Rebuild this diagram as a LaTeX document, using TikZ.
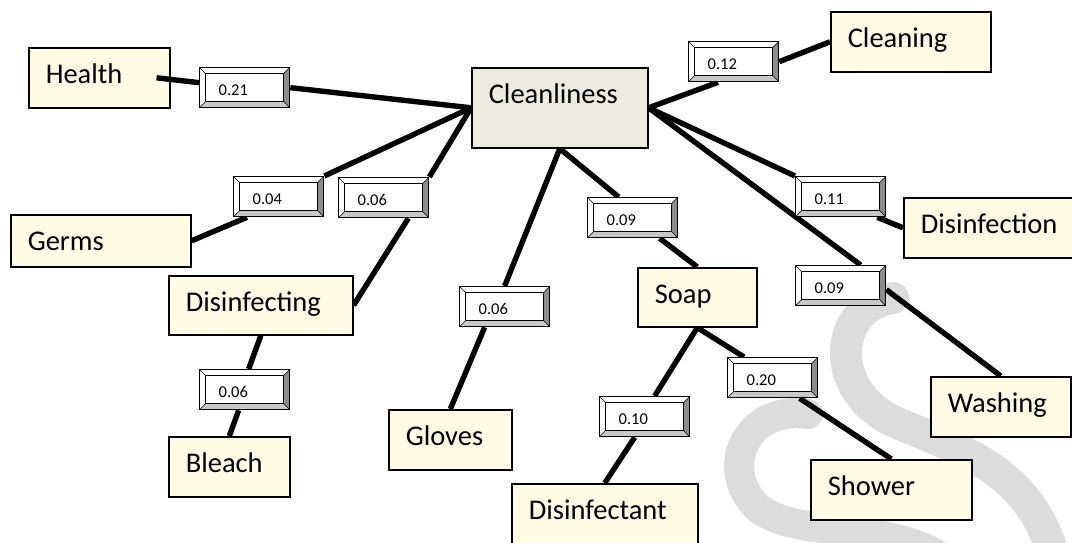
\documentclass[tikz,border=0pt]{standalone}
\usepackage{fontspec}
\setmainfont{Carlito}
\usetikzlibrary{calc}
\pgfdeclarelayer{wm}
\pgfdeclarelayer{lines}
\pgfsetlayers{wm,lines,main}
\definecolor{cream}{RGB}{254,252,228}
\definecolor{cleanfill}{RGB}{237,235,224}
\definecolor{wmgray}{RGB}{220,220,220}
\definecolor{bevR}{RGB}{140,140,140}
\definecolor{bevB}{RGB}{200,200,200}
\newcommand\nodefont{\fontsize{28.5}{34}\selectfont}
\newcommand\labfont{\fontsize{16.5}{20}\selectfont}
\begin{document}
\begin{tikzpicture}[x=1pt,y=-1pt,
  box/.style={draw=black, line width=1.6pt, fill=cream, anchor=north west,
    inner xsep=17pt, inner ysep=0pt, align=left, text height=36pt, font=\nodefont},
  lab/.style={draw=black, line width=1.3pt, fill=white, anchor=north west,
    minimum width=90pt, minimum height=40pt, inner xsep=19pt, inner ysep=0pt,
    text width=52pt, align=left, text height=27.5pt, text depth=12.5pt, font=\labfont,
    path picture={
      \fill[bevR] (path picture bounding box.north east) -- (path picture bounding box.south east)
        -- ([shift={(-6pt,6pt)}]path picture bounding box.south east)
        -- ([shift={(-6pt,-6pt)}]path picture bounding box.north east) -- cycle;
      \fill[bevB] (path picture bounding box.south west) -- (path picture bounding box.south east)
        -- ([shift={(-6pt,6pt)}]path picture bounding box.south east)
        -- ([shift={(6pt,6pt)}]path picture bounding box.south west) -- cycle;
      \draw[line width=0.6pt] (path picture bounding box.north west) -- ++(6pt,-6pt);
      \draw[line width=0.6pt] (path picture bounding box.north east) -- ++(-6pt,-6pt);
      \draw[line width=0.6pt] (path picture bounding box.south west) -- ++(6pt,6pt);
      \draw[line width=0.6pt] (path picture bounding box.south east) -- ++(-6pt,6pt);
      \draw[line width=1.1pt] ([shift={(6pt,-6pt)}]path picture bounding box.north west)
        rectangle ([shift={(-6pt,6pt)}]path picture bounding box.south east);
    }},
  conn/.style={line width=5.4pt, black},
  wmband/.style={wmgray, line width=32pt, line cap=round}
]
\useasboundingbox (0,0) rectangle (1072,543);

% background and watermark
\begin{pgfonlayer}{wm}
\fill[white] (0,0) rectangle (1072,543);
\draw[wmband] (893,298) .. controls (835,305) and (825,390) .. (895,422)
  .. controls (965,452) and (1030,470) .. (1055,560);
\draw[wmband, line width=30pt] (808,414) .. controls (745,405) and (718,470) .. (758,508)
  .. controls (800,540) and (890,520) .. (945,560);
\end{pgfonlayer}

% concept boxes
\node[box, minimum width=141pt, minimum height=60pt, text width=107pt, text depth=24pt] (health) at (28,47) {Health};
\node[box, fill=cleanfill, minimum width=176pt, minimum height=80pt, text width=142pt, text depth=44pt] (clean) at (471,67) {Cleanliness};
\node[box, minimum width=160pt, minimum height=60pt, text width=126pt, text depth=24pt] (cleaning) at (830,11) {Cleaning};
\node[box, minimum width=180pt, minimum height=60pt, text width=146pt, text depth=24pt] (disinfection) at (903,197) {Disinfection};
\node[box, minimum width=180pt, minimum height=52pt, text width=146pt, text depth=16pt] (germs) at (10,214) {Germs};
\node[box, minimum width=184pt, minimum height=59pt, text width=150pt, text depth=23pt] (disinfecting) at (168,275) {Disinfecting};
\node[box, minimum width=121pt, minimum height=60pt, text width=87pt, text depth=24pt] (bleach) at (168,436) {Bleach};
\node[box, minimum width=123pt, minimum height=60pt, text width=89pt, text depth=24pt] (gloves) at (388,409) {Gloves};
\node[box, minimum width=119pt, minimum height=59pt, text width=85pt, text depth=23pt] (soap) at (637,267) {Soap};
\node[box, minimum width=186pt, minimum height=62pt, text width=152pt, text depth=26pt] (disinfectant) at (511,483) {Disinfectant};
\node[box, minimum width=140pt, minimum height=60pt, text width=106pt, text depth=24pt] (washing) at (930,376) {Washing};
\node[box, minimum width=161pt, minimum height=60pt, text width=127pt, text depth=24pt] (shower) at (810,459) {Shower};

% weight labels
\node[lab] (lab21) at (199,67) {0.21};
\node[lab] (lab04) at (233,176) {0.04};
\node[lab] (lab06a) at (338,177) {0.06};
\node[lab] (lab06b) at (199,369) {0.06};
\node[lab] (lab06c) at (459,286) {0.06};
\node[lab] (lab09a) at (587,197) {0.09};
\node[lab] (lab10) at (599,396) {0.10};
\node[lab] (lab20) at (727,357) {0.20};
\node[lab] (lab12) at (688,41) {0.12};
\node[lab] (lab11) at (795,176) {0.11};
\node[lab] (lab09b) at (795,265) {0.09};

% connectors
\begin{pgfonlayer}{lines}
\draw[conn] (lab21.east) -- (clean.west);
\draw[conn] (clean.west) -- (lab04.north east);
\draw[conn] ($(lab04.south west)+(14,0)$) -- (germs.east);
\draw[conn] (clean.west) -- (lab06a.north east);
\draw[conn] ($(lab06a.south east)+(-21,0)$) -- (disinfecting.east);
\draw[conn] (disinfecting.south) -- ($(lab06b.north)+(4,0)$);
\draw[conn] ($(lab06b.south)+(-6,0)$) -- (bleach.north);
\draw[conn] (clean.south) -- (lab06c.north);
\draw[conn] ($(lab06c.south)+(-20,0)$) -- (gloves.north);
\draw[conn] (clean.south) -- ($(lab09a.north)+(-14,0)$);
\draw[conn] ($(lab09a.south)+(27,0)$) -- (soap.north);
\draw[conn] (soap.south) -- ($(lab10.north)+(10,0)$);
\draw[conn] ($(lab10.south)+(-10,0)$) -- (disinfectant.north);
\draw[conn] (soap.south) -- ($(lab20.north west)+(17,0)$);
\draw[conn] ($(lab20.south)+(27,0)$) -- (shower.north);
\draw[conn] (clean.east) -- ($(lab12.south west)+(30,0)$);
\draw[conn] (lab12.east) -- (cleaning.west);
\draw[conn] (clean.east) -- (lab11.north west);
\draw[conn] ($(lab11.south east)+(-9,0)$) -- (disinfection.west);
\draw[conn] (clean.east) -- ($(lab09b.north)+(20,0)$);
\draw[conn] ($(lab09b.east)+(0,4)$) -- (washing.north);
\end{pgfonlayer}
\draw[conn] ($(health.east)+(-14,0)$) -- ($(lab21.west)+(0,-5)$);
\end{tikzpicture}
\end{document}
